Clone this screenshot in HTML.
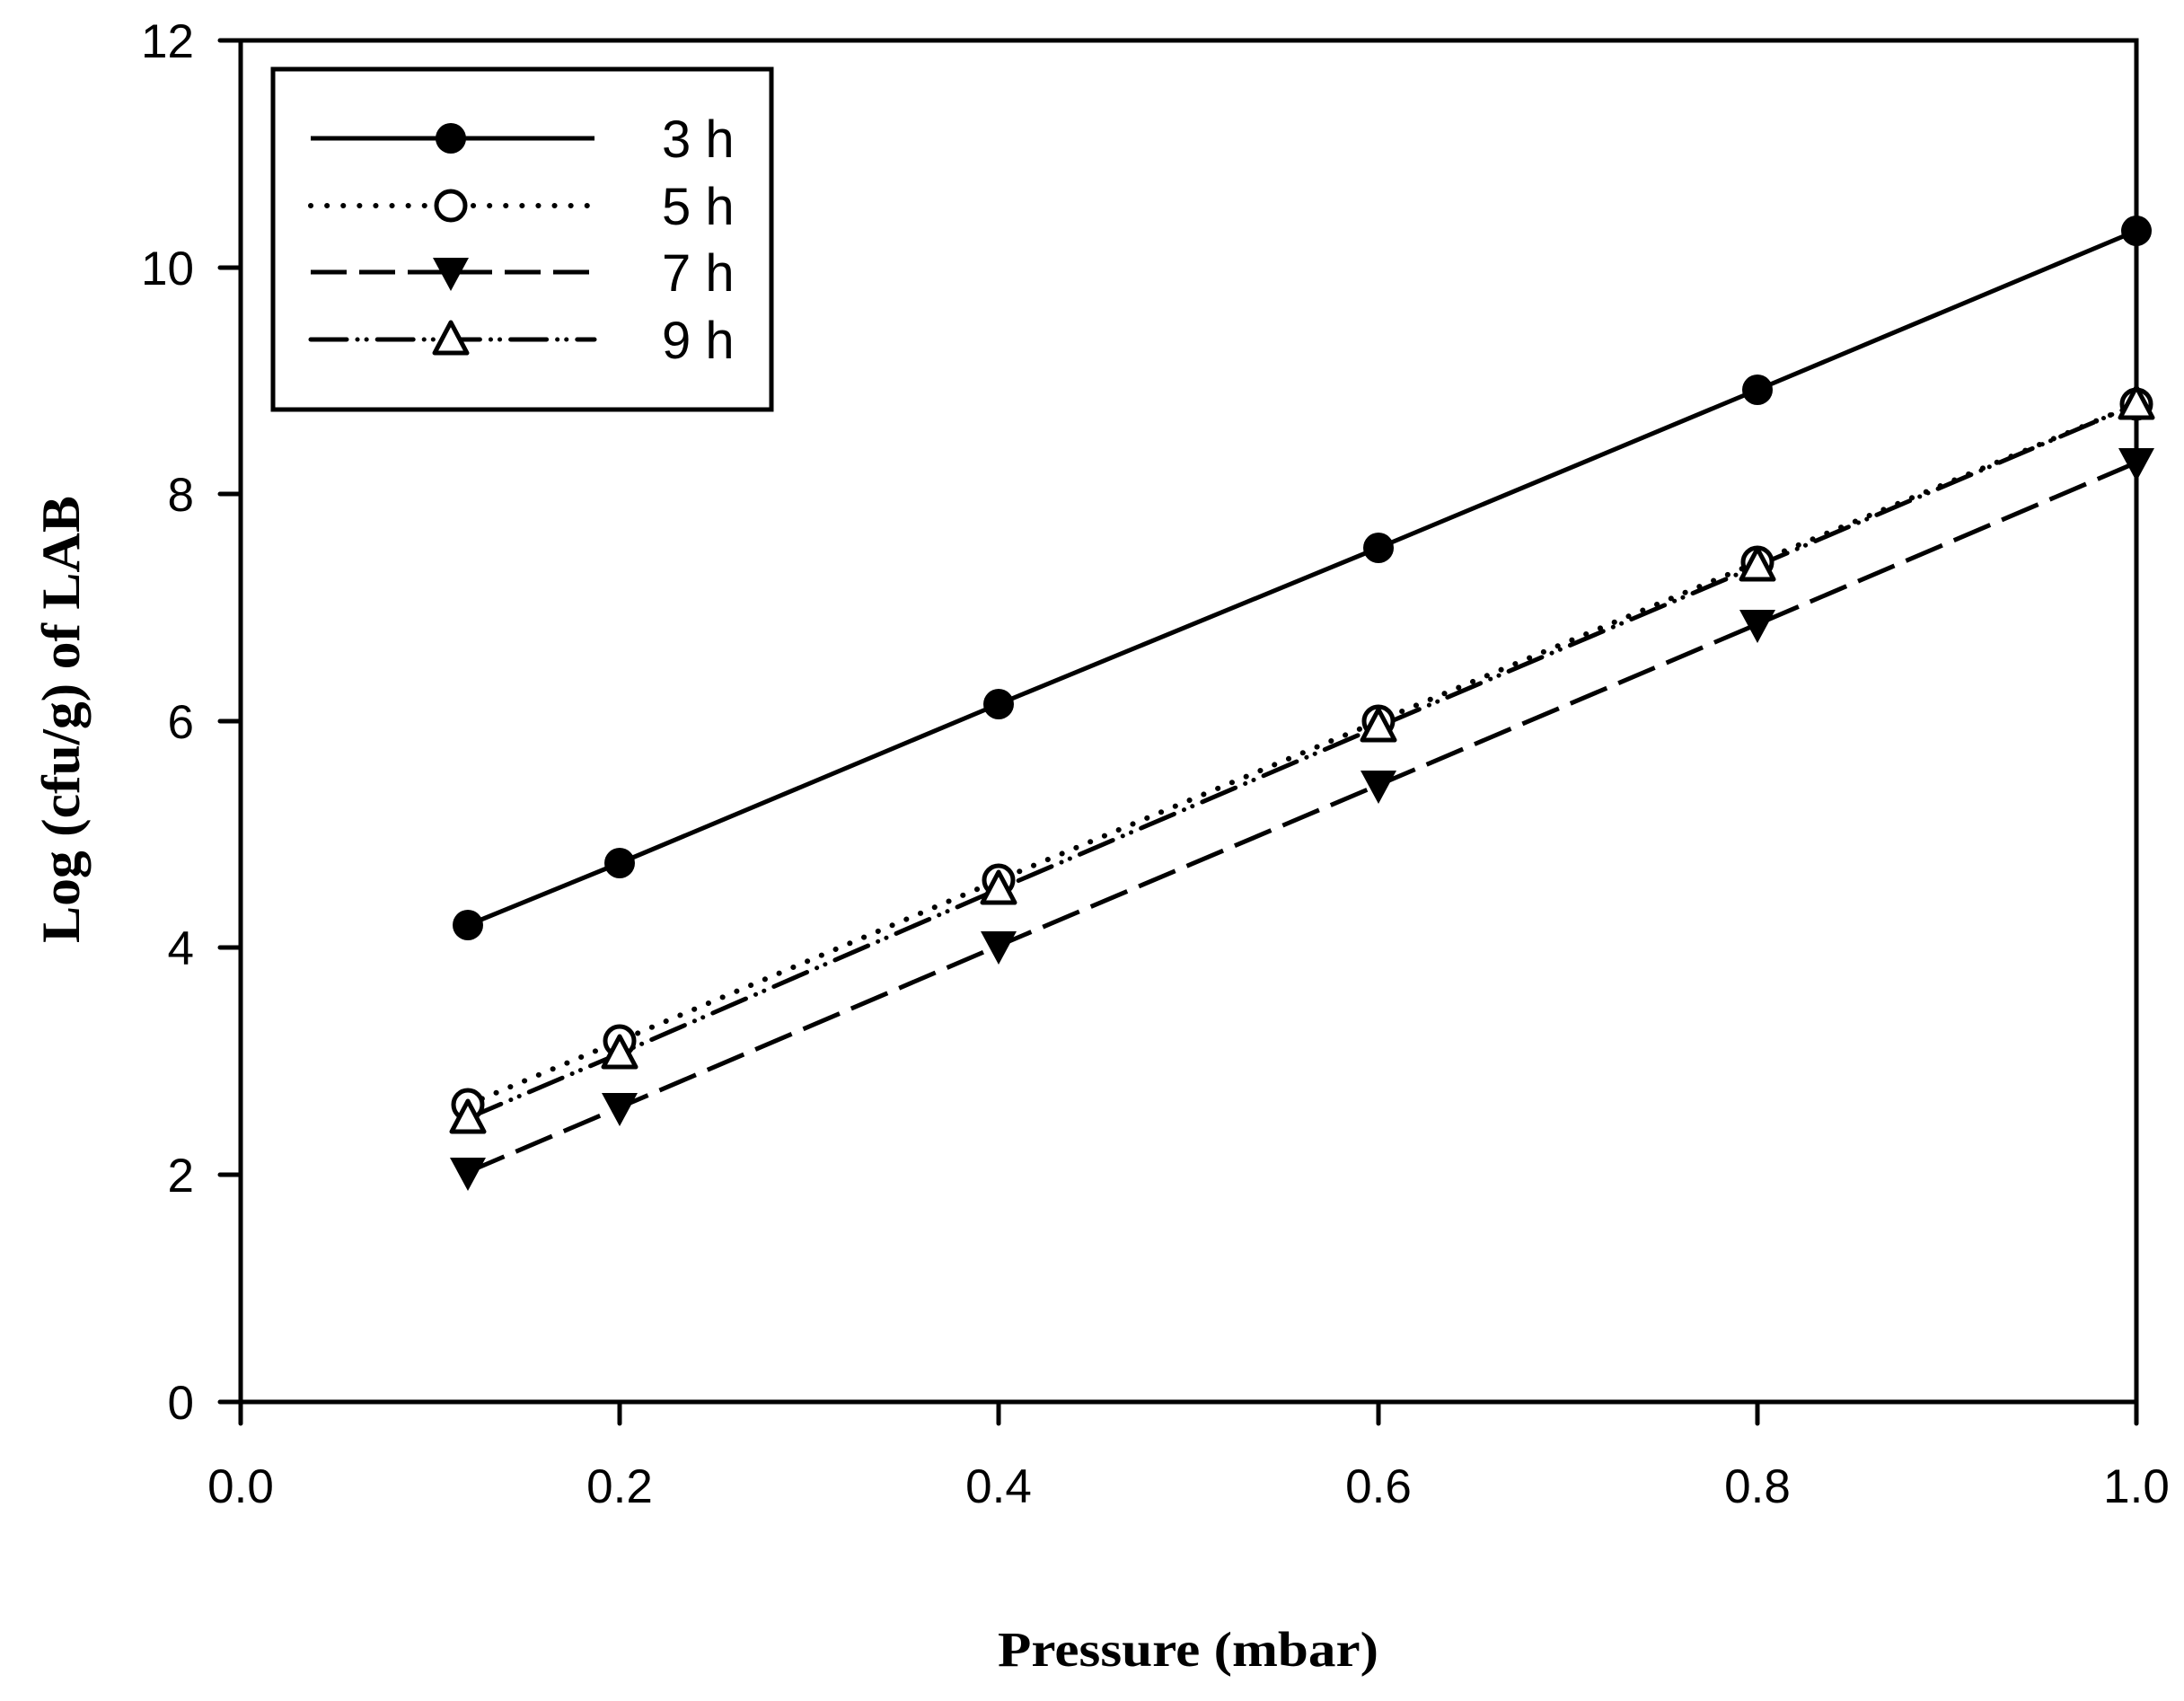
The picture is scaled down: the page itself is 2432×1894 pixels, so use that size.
<!DOCTYPE html>
<html><head><meta charset="utf-8"><style>html,body{margin:0;padding:0;background:#fff}</style></head>
<body>
<svg width="2432" height="1889" viewBox="0 0 2432 1889" xmlns="http://www.w3.org/2000/svg">
<defs>
<g id="fc"><circle r="17" fill="#000"/></g>
<g id="oc"><circle r="16" fill="#fff" stroke="#000" stroke-width="5"/></g>
<g id="dt"><polygon points="-20,-16 20,-16 0,21" fill="#000"/></g>
<g id="ut"><polygon points="0,-19 18,15 -18,15" fill="#fff" stroke="#000" stroke-width="5" stroke-linejoin="round"/></g>
</defs>
<g stroke="#000" stroke-width="5" fill="none" stroke-linecap="round">
<rect x="268" y="45" width="2111" height="1516"/>
<line x1="245" y1="1561" x2="268" y2="1561"/>
<line x1="245" y1="1308" x2="268" y2="1308"/>
<line x1="245" y1="1055" x2="268" y2="1055"/>
<line x1="245" y1="803" x2="268" y2="803"/>
<line x1="245" y1="550" x2="268" y2="550"/>
<line x1="245" y1="298" x2="268" y2="298"/>
<line x1="245" y1="45" x2="268" y2="45"/>
<line x1="268" y1="1561" x2="268" y2="1585"/>
<line x1="690" y1="1561" x2="690" y2="1585"/>
<line x1="1112" y1="1561" x2="1112" y2="1585"/>
<line x1="1535" y1="1561" x2="1535" y2="1585"/>
<line x1="1957" y1="1561" x2="1957" y2="1585"/>
<line x1="2379" y1="1561" x2="2379" y2="1585"/>
</g>
<g font-family="Liberation Sans, sans-serif" font-size="53" fill="#000">
<g text-anchor="end">
<text x="216" y="1580">0</text>
<text x="216" y="1327">2</text>
<text x="216" y="1074">4</text>
<text x="216" y="822">6</text>
<text x="216" y="569">8</text>
<text x="216" y="317">10</text>
<text x="216" y="64">12</text>
</g>
<g text-anchor="middle">
<text x="268" y="1673">0.0</text>
<text x="690" y="1673">0.2</text>
<text x="1112" y="1673">0.4</text>
<text x="1535" y="1673">0.6</text>
<text x="1957" y="1673">0.8</text>
<text x="2379" y="1673">1.0</text>
</g>
</g>
<text x="1111" y="1855" font-family="Liberation Serif, serif" font-weight="bold" font-size="55" textLength="424" lengthAdjust="spacingAndGlyphs">Pressure (mbar)</text>
<text transform="translate(88,1050) rotate(-90)" font-family="Liberation Serif, serif" font-weight="bold" font-size="60" textLength="498" lengthAdjust="spacingAndGlyphs">Log (cfu/g) of LAB</text>

<g fill="none" stroke="#000" stroke-width="5">
<polyline points="521,1030 690,961 1112,784 1535,610 1957,434 2379,257"/>
<polyline stroke-dasharray="0.1 17" stroke-linecap="round" stroke-width="6" points="521,1230 690,1159 1112,980 1535,803 1957,626 2379,450"/>
<polyline stroke-dasharray="44 14" points="521,1305 690,1233 1112,1053 1535,874 1957,695 2379,515"/>
<polyline stroke-dasharray="40 12 0.1 10 0.1 12" stroke-linecap="round" points="521,1245 690,1173 1112,990 1535,809 1957,630 2379,450"/>
</g>
<g>
<use href="#fc" x="521" y="1030"/><use href="#fc" x="690" y="961"/><use href="#fc" x="1112" y="784"/><use href="#fc" x="1535" y="610"/><use href="#fc" x="1957" y="434"/><use href="#fc" x="2379" y="257"/>
<use href="#oc" x="521" y="1230"/><use href="#oc" x="690" y="1159"/><use href="#oc" x="1112" y="980"/><use href="#oc" x="1535" y="803"/><use href="#oc" x="1957" y="626"/><use href="#oc" x="2379" y="450"/>
<use href="#ut" x="521" y="1245"/><use href="#ut" x="690" y="1173"/><use href="#ut" x="1112" y="990"/><use href="#ut" x="1535" y="809"/><use href="#ut" x="1957" y="630"/><use href="#ut" x="2379" y="450"/>
<use href="#dt" x="521" y="1305"/><use href="#dt" x="690" y="1233"/><use href="#dt" x="1112" y="1053"/><use href="#dt" x="1535" y="874"/><use href="#dt" x="1957" y="695"/><use href="#dt" x="2379" y="515"/>
</g>

<rect x="304" y="77" width="555" height="379" fill="#fff" stroke="#000" stroke-width="5"/>
<g fill="none" stroke="#000" stroke-width="5">
<line x1="346" y1="154" x2="662" y2="154"/>
<line x1="346" y1="229" x2="662" y2="229" stroke-dasharray="0.1 18" stroke-linecap="round" stroke-width="6"/>
<line x1="346" y1="303" x2="662" y2="303" stroke-dasharray="40 14"/>
<line x1="346" y1="378" x2="662" y2="378" stroke-dasharray="40 12 0.1 10 0.1 12" stroke-linecap="round"/>
</g>
<use href="#fc" x="502" y="154"/>
<use href="#oc" x="502" y="229"/>
<use href="#dt" x="502" y="303"/>
<use href="#ut" x="502" y="378"/>
<g font-family="Liberation Sans, sans-serif" font-size="58" fill="#000">
<text x="737" y="175">3 h</text>
<text x="737" y="250">5 h</text>
<text x="737" y="324">7 h</text>
<text x="737" y="399">9 h</text>
</g>
</svg>
</body></html>
